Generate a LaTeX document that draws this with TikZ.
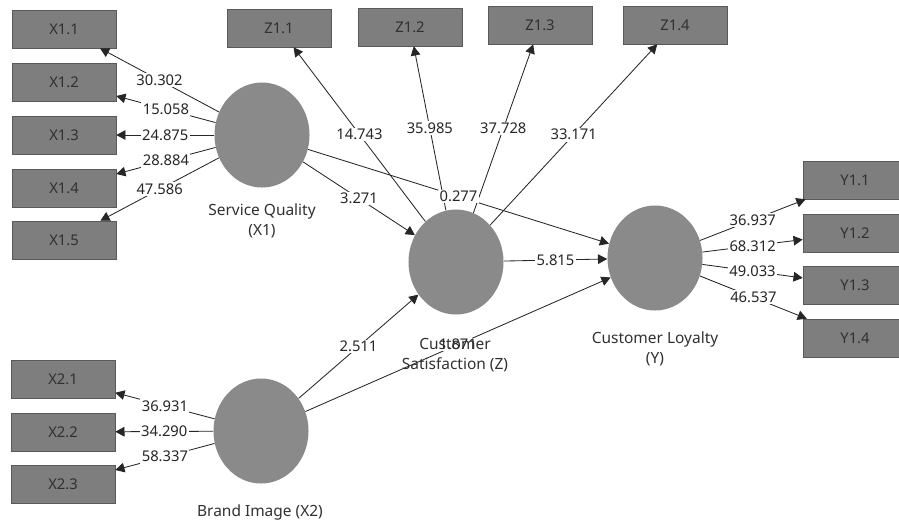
\documentclass[tikz,border=0pt]{standalone}
\usepackage{fontspec}
\setmainfont{Noto Sans}
\usetikzlibrary{shapes.geometric,arrows.meta}

\definecolor{boxgray}{HTML}{7E7E7E}
\definecolor{boxedge}{HTML}{5A5A5A}
\definecolor{latgray}{HTML}{8A8A8A}
\definecolor{txtgray}{HTML}{303030}
\definecolor{linegray}{HTML}{262626}

\begin{document}
\begin{tikzpicture}[x=0.025cm, y=-0.025cm, font=\fontsize{10.5}{13}\selectfont,
	ind/.style={draw=boxedge, fill=boxgray, minimum width=2.6cm, minimum height=0.95cm, inner sep=0pt, text=txtgray},
	lat/.style={ellipse, fill=latgray, minimum width=2.375cm, minimum height=2.625cm, inner sep=0pt},
	latname/.style={text=txtgray, align=center, font=\fontsize{11}{14.5}\selectfont},
	val/.style={fill=white, inner sep=1pt, text=linegray},
	path/.style={draw=linegray, line width=0.6pt, -{Triangle[length=2.3mm, width=2.4mm]}}]
	\useasboundingbox (0,0) rectangle (899,522);
	
	\node [lat] (sq) at (262,135) {};
	\node [lat] (cs) at (456,262) {};
	\node [lat] (cl) at (655,258) {};
	\node [lat] (bi) at (261,431) {};
	
	\node [ind] (x11) at (64,29)  {X1.1};
	\node [ind] (x12) at (64,82)  {X1.2};
	\node [ind] (x13) at (64,135) {X1.3};
	\node [ind] (x14) at (64,188) {X1.4};
	\node [ind] (x15) at (64,240) {X1.5};
	
	\node [ind] (z11) at (279,28) {Z1.1};
	\node [ind] (z12) at (410,27) {Z1.2};
	\node [ind] (z13) at (540,25) {Z1.3};
	\node [ind] (z14) at (675,25) {Z1.4};
	
	\node [ind] (y11) at (855,180) {Y1.1};
	\node [ind] (y12) at (855,233) {Y1.2};
	\node [ind] (y13) at (855,285) {Y1.3};
	\node [ind] (y14) at (855,338) {Y1.4};
	
	\node [ind] (x21) at (63,379) {X2.1};
	\node [ind] (x22) at (63,432) {X2.2};
	\node [ind] (x23) at (63,484) {X2.3};
	
	\draw [path] (sq) -- node [val] {30.302} (x11);
	\draw [path] (sq) -- node [val] {15.058} (x12);
	\draw [path] (sq) -- node [val] {24.875} (x13);
	\draw [path] (sq) -- node [val] {28.884} (x14);
	\draw [path] (sq) -- node [val] {47.586} (x15);
	
	\draw [path] (cs) -- node [val] {14.743} (z11);
	\draw [path] (cs) -- node [val] {35.985} (z12);
	\draw [path] (cs) -- node [val] {37.728} (z13);
	\draw [path] (cs) -- node [val] {33.171} (z14);
	
	\draw [path] (cl) -- node [val] {36.937} (y11);
	\draw [path] (cl) -- node [val] {68.312} (y12);
	\draw [path] (cl) -- node [val] {49.033} (y13);
	\draw [path] (cl) -- node [val] {46.537} (y14);
	
	\draw [path] (bi) -- node [val] {36.931} (x21);
	\draw [path] (bi) -- node [val] {34.290} (x22);
	\draw [path] (bi) -- node [val] {58.337} (x23);
	
	\draw [path] (sq) -- node [val] {3.271} (cs);
	\draw [path] (sq) -- node [val] {0.277} (cl);
	\draw [path] (cs) -- node [val] {5.815} (cl);
	\draw [path] (bi) -- node [val] {2.511} (cs);
	\draw [path] (bi) -- node [val] {1.871} (cl);
	
	\node [latname] (sqname) at (262,221) {Service Quality\\(X1)};
	\node [latname] (csname) at (455,355) {Customer\\Satisfaction (Z)};
	\node [latname] (clname) at (655,349) {Customer Loyalty\\(Y)};
	\node [latname] (biname) at (260,512) {Brand Image (X2)};
\end{tikzpicture}
\end{document}
